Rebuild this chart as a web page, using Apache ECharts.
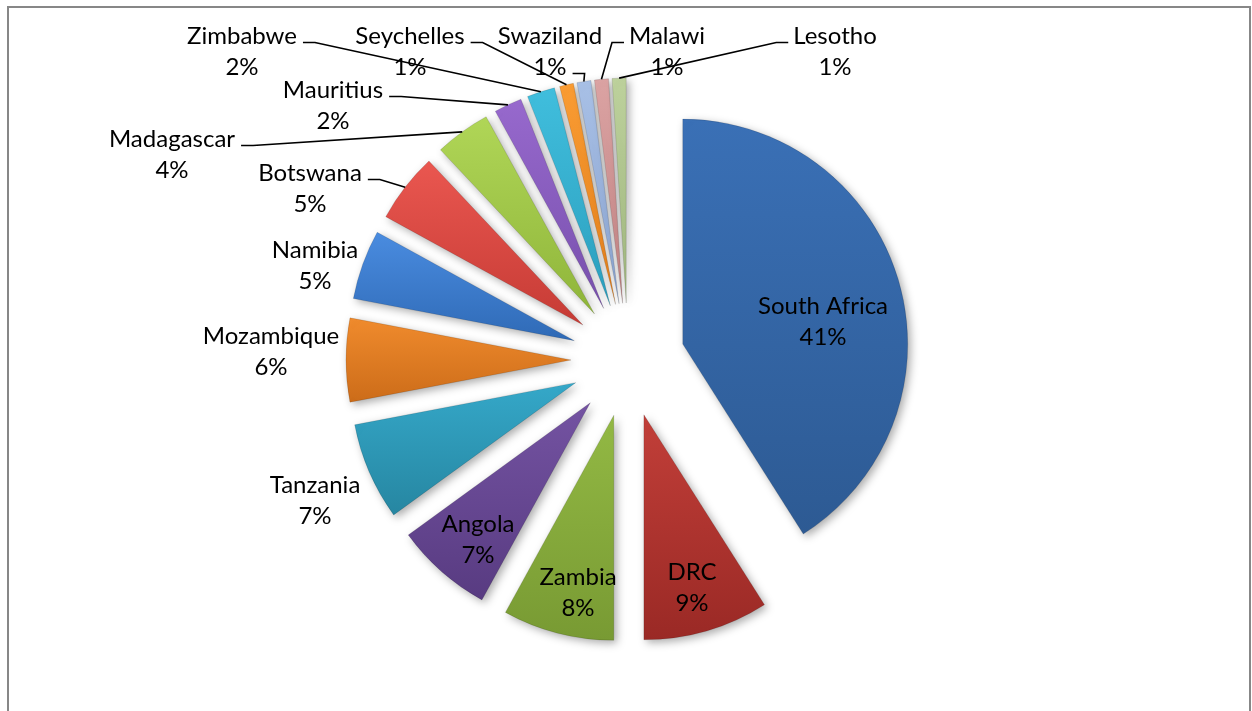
<!DOCTYPE html>
<html>
<head>
<meta charset="utf-8">
<script src="https://cdn.jsdelivr.net/npm/echarts@6/dist/echarts.min.js"></script>
<style>
  html, body { margin: 0; padding: 0; background: #ffffff; }
  #chart { width: 1252px; height: 711px; }
</style>
</head>
<body>
<div id="chart"></div>
<script>
// Country shares (%) of the regional total, clockwise from 12 o'clock
const categories = ['South Africa', 'DRC', 'Zambia', 'Angola', 'Tanzania', 'Mozambique',
  'Namibia', 'Botswana', 'Madagascar', 'Mauritius', 'Zimbabwe', 'Seychelles',
  'Swaziland', 'Malawi', 'Lesotho'];
const shares = [41, 9, 8, 7, 7, 6, 5, 5, 4, 2, 2, 1, 1, 1, 1];

// Slice fills: [lighter top, darker bottom]
const sliceColors = [
  ['#3a70b6', '#2d5a93'],
  ['#c23f39', '#9a2925'],
  ['#93b944', '#789a33'],
  ['#7453a2', '#583b81'],
  ['#35a8c9', '#2686a1'],
  ['#f08b2d', '#cc6c19'],
  ['#4a8ce0', '#2f6ab6'],
  ['#ea5750', '#c63b35'],
  ['#b0d657', '#8fb53a'],
  ['#9769cd', '#7850ad'],
  ['#40bedd', '#2c9fbe'],
  ['#fa9c33', '#e27f1c'],
  ['#a8c0e6', '#8aa3cf'],
  ['#dba3a3', '#c08282'],
  ['#bdd19c', '#9fb67e']
];

// Pie geometry
const PIE_CX = 628, PIE_CY = 360, PIE_R = 225, EXPLODE = 57;

// Label text style
const FONT_SIZE = 24, LINE_H = 31, FONT_FAMILY = 'Lato, "Open Sans", sans-serif';

// Label placement (centre of each two-line label)
const labelSpots = {
  'South Africa': [823, 322], 'DRC': [692, 588], 'Zambia': [578, 593], 'Angola': [478, 540],
  'Tanzania': [315, 501], 'Mozambique': [271, 352], 'Namibia': [315, 266], 'Botswana': [310, 189],
  'Madagascar': [172, 155], 'Mauritius': [333, 106], 'Zimbabwe': [242, 52], 'Seychelles': [410, 52],
  'Swaziland': [550, 52], 'Malawi': [667, 52], 'Lesotho': [835, 52]
};
// Where each leader line meets its label: side of the text and which text row
const leaderHooks = {
  'Botswana': { side: 'right', row: 0 }, 'Madagascar': { side: 'right', row: 0 },
  'Mauritius': { side: 'right', row: 0 }, 'Zimbabwe': { side: 'right', row: 0 },
  'Seychelles': { side: 'right', row: 0 }, 'Swaziland': { side: 'right', row: 1 },
  'Malawi': { side: 'left', row: 0 }, 'Lesotho': { side: 'left', row: 0 }
};

const total = shares.reduce((a, b) => a + b, 0);
const percentText = shares.map(v => Math.round(v / total * 100) + '%');

const measureCtx = document.createElement('canvas').getContext('2d');
measureCtx.font = FONT_SIZE + 'px ' + FONT_FAMILY;

// Middle of the outer arc of an exploded slice
function sliceTip(i) {
  let before = 0;
  for (let k = 0; k < i; k++) before += shares[k];
  const mid = (before + shares[i] / 2) / total * Math.PI * 2;
  const d = PIE_R + EXPLODE;
  return [PIE_CX + d * Math.sin(mid), PIE_CY - d * Math.cos(mid)];
}

const chart = echarts.init(document.getElementById('chart'), null, { renderer: 'canvas' });

const sliceData = categories.map((name, i) => ({
  name: name,
  value: shares[i],
  selected: true,
  itemStyle: {
    color: new echarts.graphic.LinearGradient(0, 0, 0, 1, [
      { offset: 0, color: sliceColors[i][0] },
      { offset: 1, color: sliceColors[i][1] }
    ])
  }
}));

const labelData = categories.map((name, i) => ({
  name: name,
  value: shares[i],
  labelLine: { show: !!leaderHooks[name] }
}));

chart.setOption({
  animation: false,
  backgroundColor: '#ffffff',
  graphic: [{
    type: 'rect',
    shape: { x: 8, y: 7, width: 1242, height: 740 },
    style: { fill: 'none', stroke: '#878787', lineWidth: 2 },
    silent: true,
    z: 100
  }],
  series: [{
    // exploded slices
    type: 'pie',
    z: 2,
    center: [PIE_CX, PIE_CY],
    radius: PIE_R,
    startAngle: 90,
    clockwise: true,
    selectedMode: 'multiple',
    selectedOffset: EXPLODE,
    silent: true,
    itemStyle: {
      borderColor: 'rgba(0,0,0,0.12)',
      borderWidth: 1,
      shadowBlur: 8,
      shadowOffsetX: 3,
      shadowOffsetY: 3,
      shadowColor: 'rgba(0,0,0,0.33)'
    },
    label: { show: false },
    labelLine: { show: false },
    emphasis: { disabled: true },
    data: sliceData
  }, {
    // category / percentage labels with leader lines
    type: 'pie',
    z: 3,
    center: [PIE_CX, PIE_CY],
    radius: PIE_R,
    startAngle: 90,
    clockwise: true,
    silent: true,
    avoidLabelOverlap: false,
    percentPrecision: 0,
    itemStyle: { color: 'rgba(0,0,0,0)', borderWidth: 0 },
    label: {
      show: true,
      position: 'outside',
      formatter: '{b}\n{d}%',
      fontFamily: FONT_FAMILY,
      fontSize: FONT_SIZE,
      lineHeight: LINE_H,
      color: '#000000',
      align: 'center'
    },
    labelLine: {
      show: true,
      length: 10,
      length2: 8,
      lineStyle: { color: '#000000', width: 1.6 }
    },
    labelLayout: function (params) {
      const i = params.dataIndex;
      const name = categories[i];
      const spot = labelSpots[name];
      const out = { x: spot[0], y: spot[1], align: 'center', verticalAlign: 'middle' };
      const hook = leaderHooks[name];
      if (hook) {
        const rowText = hook.row === 0 ? name : percentText[i];
        const w = measureCtx.measureText(rowText).width;
        const top = spot[1] - LINE_H;
        const rowY = top + LINE_H * (hook.row + 0.5) + 6;
        const edgeX = hook.side === 'right' ? spot[0] + w / 2 + 6 : spot[0] - w / 2 - 5;
        const elbowX = hook.side === 'right' ? edgeX + 12 : edgeX - 12;
        out.labelLinePoints = [sliceTip(i), [elbowX, rowY], [edgeX, rowY]];
      }
      return out;
    },
    emphasis: { disabled: true },
    data: labelData
  }]
});
</script>
</body>
</html>
